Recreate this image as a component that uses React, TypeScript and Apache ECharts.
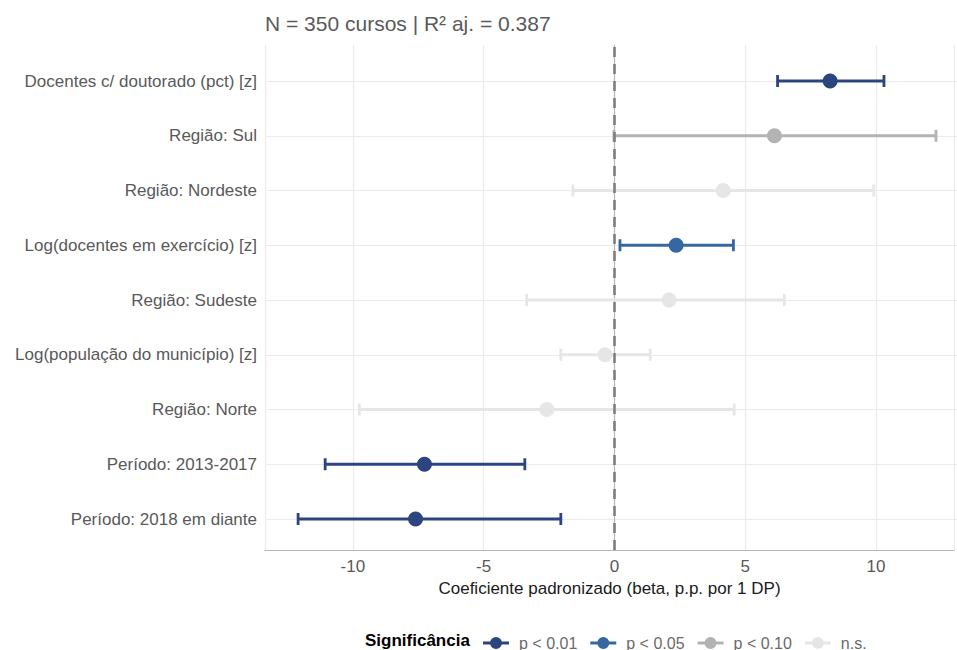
import React, { useEffect, useRef } from "react";
import * as echarts from "echarts";

// Rows, top to bottom
const categories = [
  "Docentes c/ doutorado (pct) [z]",
  "Região: Sul",
  "Região: Nordeste",
  "Log(docentes em exercício) [z]",
  "Região: Sudeste",
  "Log(população do município) [z]",
  "Região: Norte",
  "Período: 2013-2017",
  "Período: 2018 em diante",
];
const betas = [8.15, 6.03, 4.08, 2.29, 2.02, -0.42, -2.63, -7.29, -7.63];
const ciLow = [6.15, -0.08, -1.64, 0.15, -3.4, -2.1, -9.77, -11.07, -12.1];
const ciHigh = [10.2, 12.18, 9.81, 4.47, 6.41, 1.3, 4.5, -3.47, -2.1];
const significance = ["p < 0.01", "p < 0.10", "n.s.", "p < 0.05", "n.s.", "n.s.", "n.s.", "p < 0.01", "p < 0.01"];
const levels = ["p < 0.01", "p < 0.05", "p < 0.10", "n.s."];
const levelColors = ["#2c4580", "#3567a0", "#b3b3b3", "#e6e6e6"];
const xTicks = [-10, -5, 0, 5, 10];

const X_MIN = -13.36;
const X_MAX = 12.98;
const FONT = "Liberation Sans, Arial, Helvetica, sans-serif";

const legendIcon =
  "path://M0,4.6 L26,4.6 L26,7.4 L0,7.4 Z M19,6 A6,6 0 1,1 7,6 A6,6 0 1,1 19,6 Z";

export default function App() {
  const ref = useRef<HTMLDivElement>(null);
  useEffect(() => {
    if (!ref.current) return;
    const chart = echarts.init(ref.current, undefined, { renderer: "svg" });

    const series: any[] = [];
    series.push({
      type: "line",
      xAxisIndex: 0,
      yAxisIndex: 0,
      data: [],
      silent: true,
      z: 1,
      markLine: {
        silent: true,
        symbol: "none",
        label: { show: false },
        lineStyle: { color: "#7f7f7f", width: 2.6, type: [10, 7] },
        data: [{ xAxis: 0 }],
      },
    });

    levels.forEach((lvl, li) => {
      const idx = categories.map((_, i) => i).filter((i) => significance[i] === lvl);
      series.push({
        type: "scatter",
        name: lvl,
        xAxisIndex: 1,
        yAxisIndex: 1,
        z: 4,
        symbol: "circle",
        symbolSize: 15,
        itemStyle: { color: levelColors[li], opacity: 1 },
        data: idx.map((i) => [betas[i], i]),
      });
      series.push({
        type: "custom",
        name: lvl,
        xAxisIndex: 1,
        yAxisIndex: 1,
        z: 3,
        itemStyle: { color: levelColors[li] },
        data: idx.map((i) => [ciLow[i], ciHigh[i], i]),
        renderItem: (params: any, api: any) => {
          const row = api.value(2);
          const a = api.coord([api.value(0), row]);
          const b = api.coord([api.value(1), row]);
          const cap = 6;
          const style = { stroke: levelColors[li], lineWidth: 2.8 };
          return {
            type: "group",
            children: [
              { type: "line", shape: { x1: a[0], y1: a[1], x2: b[0], y2: b[1] }, style },
              { type: "line", shape: { x1: a[0], y1: a[1] - cap, x2: a[0], y2: a[1] + cap }, style },
              { type: "line", shape: { x1: b[0], y1: b[1] - cap, x2: b[0], y2: b[1] + cap }, style },
            ],
          };
        },
      });
    });

    chart.setOption({
      animation: false,
      textStyle: { fontFamily: FONT },
      title: {
        text: "N = 350 cursos | R² aj. = 0.387",
        left: 265,
        top: 13,
        padding: 0,
        textStyle: { fontFamily: FONT, fontSize: 21, fontWeight: "normal", color: "#5a5a5a" },
      },
      graphic: [
        {
          type: "text",
          left: 365,
          top: 632,
          style: { text: "Significância", font: `bold 17px ${FONT}`, fill: "#000000" },
        },
      ],
      legend: {
        left: 483,
        top: 635,
        padding: 0,
        itemWidth: 36,
        itemHeight: 12,
        itemGap: 13,
        textStyle: { fontFamily: FONT, fontSize: 16, color: "#6a6a6a" },
        data: levels.map((l) => ({ name: l, icon: legendIcon })),
      },
      grid: [
        { left: 265, right: 0, top: 45, bottom: 100, containLabel: false },
        { left: 265, right: 0, top: 81, height: 438, containLabel: false },
      ],
      xAxis: [
        {
          type: "value",
          gridIndex: 0,
          min: X_MIN,
          max: X_MAX,
          name: "Coeficiente padronizado (beta, p.p. por 1 DP)",
          nameLocation: "middle",
          nameGap: 29,
          nameTextStyle: { fontFamily: FONT, fontSize: 17, color: "#1a1a1a" },
          axisLine: { show: true, lineStyle: { color: "#b8b8b8", width: 1.2 } },
          axisTick: { show: false },
          axisLabel: {
            margin: 8,
            fontFamily: FONT,
            fontSize: 17,
            color: "#595959",
            formatter: (v: number) => (xTicks.includes(Math.round(v * 100) / 100) ? String(v) : ""),
          },
          splitLine: { show: true, lineStyle: { color: "#ebebeb", width: 1.2 } },
        },
        {
          type: "value",
          gridIndex: 1,
          min: X_MIN,
          max: X_MAX,
          show: false,
          splitLine: { show: false },
        },
      ],
      yAxis: [
        {
          type: "value",
          gridIndex: 0,
          min: 0,
          max: 1,
          axisLine: { show: true, lineStyle: { color: "#b8b8b8", width: 1.2 } },
          axisTick: { show: false },
          axisLabel: { show: false },
          splitLine: { show: false },
        },
        {
          type: "value",
          gridIndex: 1,
          min: 0,
          max: 8,
          interval: 1,
          inverse: true,
          axisLine: { show: false },
          axisTick: { show: false },
          axisLabel: {
            margin: 8,
            fontFamily: FONT,
            fontSize: 17,
            color: "#595959",
            formatter: (v: number) => categories[Math.round(v)] ?? "",
          },
          splitLine: { show: true, lineStyle: { color: "#ebebeb", width: 1.2 } },
        },
      ],
      series,
    });
    return () => chart.dispose();
  }, []);
  return <div ref={ref} style={{ width: 957, height: 650, position: "absolute", left: 0, top: 0 }} />;
}
